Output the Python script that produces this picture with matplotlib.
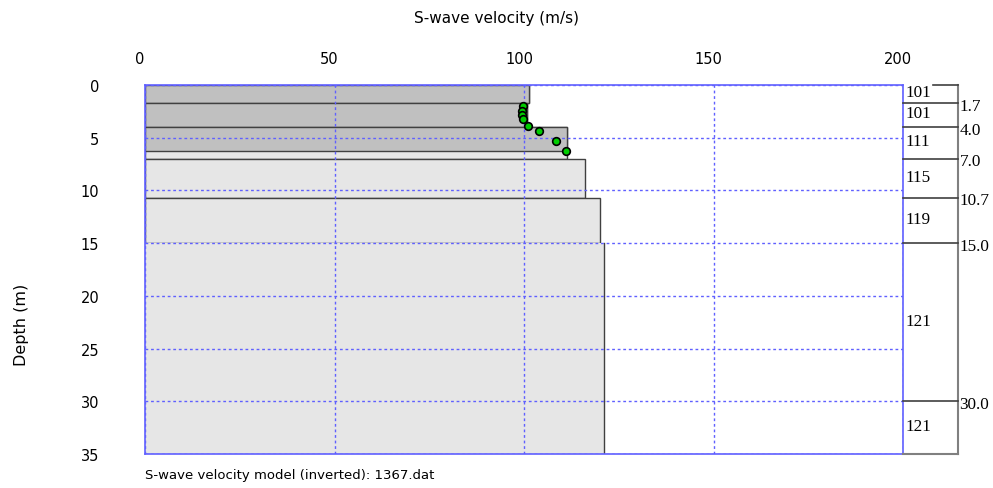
import matplotlib
matplotlib.use("Agg")
import matplotlib.pyplot as plt
import matplotlib.transforms as mtransforms

# layered model (inverted)
layer_top = [0.0, 1.7, 4.0, 7.0, 10.7, 15.0, 30.0]
layer_bot = [1.7, 4.0, 7.0, 10.7, 15.0, 30.0, 35.0]
layer_vs = [101.3, 100.7, 111.4, 116.1, 120.0, 121.0, 121.0]
vs_labels = ["101", "101", "111", "115", "119", "121", "121"]
depth_labels = ["1.7", "4.0", "7.0", "10.7", "15.0", "30.0"]

# shaded (resolved) part of the model
dark_top = [0.0, 1.7, 4.0]
dark_bot = [1.7, 4.0, 6.3]
dark_vs = [101.3, 100.7, 111.4]

# velocity profile points
pt_vs = [99.7, 99.6, 99.5, 99.8, 101.0, 104.0, 108.4, 111.0]
pt_depth = [1.96, 2.44, 2.85, 3.2, 3.86, 4.39, 5.31, 6.29]

BLUE = "#6060ff"

fig = plt.figure(figsize=(9.93, 4.89), dpi=100)
ax = fig.add_axes([145 / 993, 1 - 455 / 489, 758 / 993, 369 / 489])

for t, b, v in zip(layer_top, layer_bot, layer_vs):
    # grid lines sit on top of the 15 m and 30 m boundaries in the original
    ec = "none" if t in (15.0, 30.0) else "#404040"
    ax.barh(t, v, height=b - t, align="edge", color="#e6e6e6",
            edgecolor=ec, linewidth=1, zorder=1)
    if ec == "none":
        ax.plot([v, v], [t, b], color="#404040", lw=1, zorder=1.5)
for t, b, v in zip(dark_top, dark_bot, dark_vs):
    ax.barh(t, v, height=b - t, align="edge", color="#c0c0c0",
            edgecolor="#404040", linewidth=1, zorder=2)

ax.plot(pt_vs, pt_depth, "o", ms=5.5, mfc="#00cc00", mec="black", mew=1.2, zorder=5)

ax.set_xlim(0, 200)
ax.set_ylim(35, 0)
ax.set_xticks([0, 50, 100, 150, 200])
ax.set_yticks([0, 5, 10, 15, 20, 25, 30, 35])
ax.xaxis.tick_top()
ax.tick_params(length=0, labelsize=10.5, pad=14)
ax.tick_params(axis="y", pad=33)
for lab in ax.get_xticklabels():
    lab.set_transform(lab.get_transform() +
                      mtransforms.ScaledTranslation(-5 / 100, 0, fig.dpi_scale_trans))
for s in ax.spines.values():
    s.set_color(BLUE)
    s.set_linewidth(1.2)
ax.grid(True, color=BLUE, linestyle=(0, (2, 2)), linewidth=1, zorder=3)
ax.set_axisbelow(False)

# right-hand layer table
x0, x1 = 200, 200 + 55 / 758 * 200
ax.plot([x1, x1], [0, 35], color="#808080", lw=1.5, clip_on=False, zorder=4)
ax.plot([x0 + 30 / 758 * 200, x1], [0, 0], color="#404040", lw=1.2, clip_on=False, zorder=4)
ax.plot([x0, x1], [35, 35], color="#808080", lw=1.5, clip_on=False, zorder=4)
for d, lab in zip(layer_bot[:-1], depth_labels):
    ax.plot([x0, x1], [d, d], color="#404040", lw=1.2, clip_on=False, zorder=4)
    ax.text(x1 + 0.4, d + 0.25, lab, family="Liberation Serif", fontsize=12.3,
            va="center", ha="left")
for t, b, lab in zip(layer_top, layer_bot, vs_labels):
    ax.text(x0 + 0.7, (t + b) / 2 - 0.15, lab, family="Liberation Serif",
            fontsize=12.3, va="center", ha="left")

fig.text(0.5, 1 - 18 / 489, "S-wave velocity (m/s)", ha="center", va="center",
         fontsize=11)
fig.text(22 / 993, 1 - 325 / 489, "Depth (m)", rotation=90, ha="center",
         va="center", fontsize=11.5)
fig.text(145 / 993, 1 - 476 / 489, "S-wave velocity model (inverted): 1367.dat",
         ha="left", va="center", fontsize=9.5)

fig.savefig("out.png", dpi=100)
